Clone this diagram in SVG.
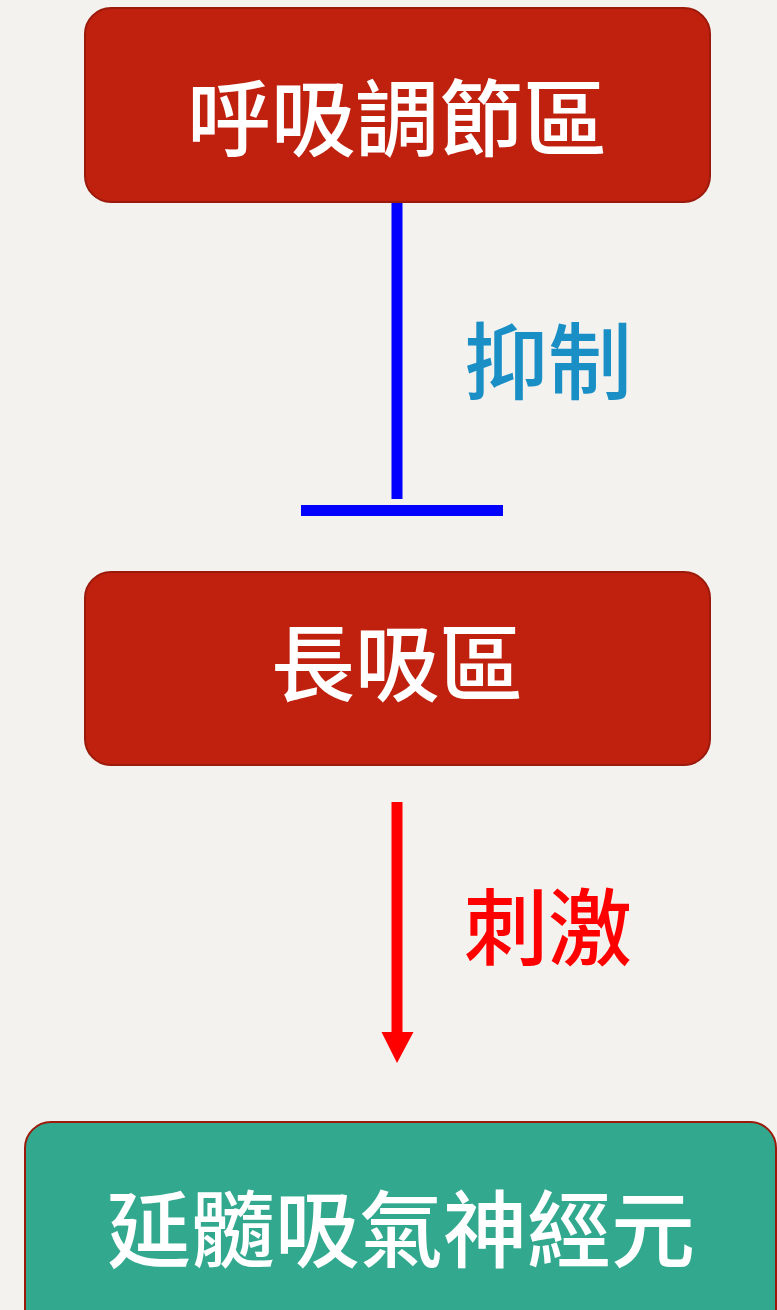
<svg xmlns="http://www.w3.org/2000/svg" width="777" height="1310" viewBox="0 0 777 1310">
  <defs>
    <style>
      .box-red { fill: #c0210e; stroke: #9b1a0b; stroke-width: 2; }
      .box-teal { fill: #32a98f; stroke: #9b1a0b; stroke-width: 2; }
      .lbl { font-family: "Noto Sans CJK TC", "Noto Sans CJK SC", sans-serif; font-weight: 500; font-size: 84px; text-anchor: middle; }
      .node-text { fill: #ffffff; }
    </style>
  </defs>
  <rect width="777" height="1310" fill="#f3f2ef"/>

  <g id="connectors">
    <g id="inhibit">
      <line x1="397" y1="202" x2="397" y2="499" stroke="#0000ff" stroke-width="11"/>
      <rect x="301" y="505" width="202" height="11" fill="#0000ff"/>
      <text class="lbl" x="548" y="393" fill="#1a8fc6">抑制</text>
    </g>
    <g id="stimulate">
      <line x1="397" y1="802" x2="397" y2="1034" stroke="#ff0000" stroke-width="11"/>
      <path d="M381.5,1032 L413.5,1032 L397,1063 Z" fill="#ff0000"/>
      <text class="lbl" x="548" y="959" fill="#ff0000">刺激</text>
    </g>
  </g>

  <g id="node-top">
    <rect class="box-red" x="85" y="8" width="625" height="194" rx="26" ry="26"/>
    <text class="lbl node-text" x="397" y="150">呼吸調節區</text>
  </g>

  <g id="node-mid">
    <rect class="box-red" x="85" y="572" width="625" height="193" rx="26" ry="26"/>
    <text class="lbl node-text" x="397" y="695">長吸區</text>
  </g>

  <g id="node-bottom">
    <rect class="box-teal" x="25" y="1122" width="751" height="220" rx="26" ry="26"/>
    <text class="lbl node-text" x="401" y="1261">延髓吸氣神經元</text>
  </g>
</svg>
